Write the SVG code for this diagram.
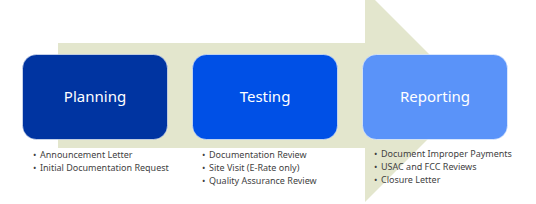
<svg xmlns="http://www.w3.org/2000/svg" width="536" height="204" viewBox="0 0 536 204">
<style>
.box{stroke:#ffffff;stroke-opacity:0.55;stroke-width:1}
.title{font-family:"Noto Sans","Liberation Sans",sans-serif;font-size:15px;fill:#ffffff;text-anchor:middle}
.item{font-family:"Noto Sans","Liberation Sans",sans-serif;font-size:9px;fill:#3f3f3f}
</style>
<rect width="536" height="204" fill="#ffffff"/>
<g id="connectors">
<path d="M58 43 H365 V-10 L471 96 L365 202 V148 H58 Z" fill="#E3E6CD"/>
</g>
<g id="planning">
<rect class="box" x="22.5" y="54.5" width="145" height="85" rx="14" fill="#0034A1"/>
<text class="title" x="95" y="102">Planning</text>
<text class="item" x="33" y="158">•</text><text class="item" x="40" y="158">Announcement Letter</text>
<text class="item" x="33" y="171">•</text><text class="item" x="40" y="171">Initial Documentation Request</text>
</g>
<g id="testing">
<rect class="box" x="192.5" y="54.5" width="145" height="85" rx="14" fill="#0050E6"/>
<text class="title" x="265" y="102">Testing</text>
<text class="item" x="202" y="157.5">•</text><text class="item" x="209" y="157.5">Documentation Review</text>
<text class="item" x="202" y="170.5">•</text><text class="item" x="209" y="170.5">Site Visit (E-Rate only)</text>
<text class="item" x="202" y="183.5">•</text><text class="item" x="209" y="183.5">Quality Assurance Review</text>
</g>
<g id="reporting">
<rect class="box" x="362.5" y="54.5" width="145" height="85" rx="14" fill="#5A93F9"/>
<text class="title" x="435" y="102">Reporting</text>
<text class="item" x="374" y="157">•</text><text class="item" x="381" y="157">Document Improper Payments</text>
<text class="item" x="374" y="170">•</text><text class="item" x="381" y="170">USAC and FCC Reviews</text>
<text class="item" x="374" y="183">•</text><text class="item" x="381" y="183">Closure Letter</text>
</g>
</svg>
